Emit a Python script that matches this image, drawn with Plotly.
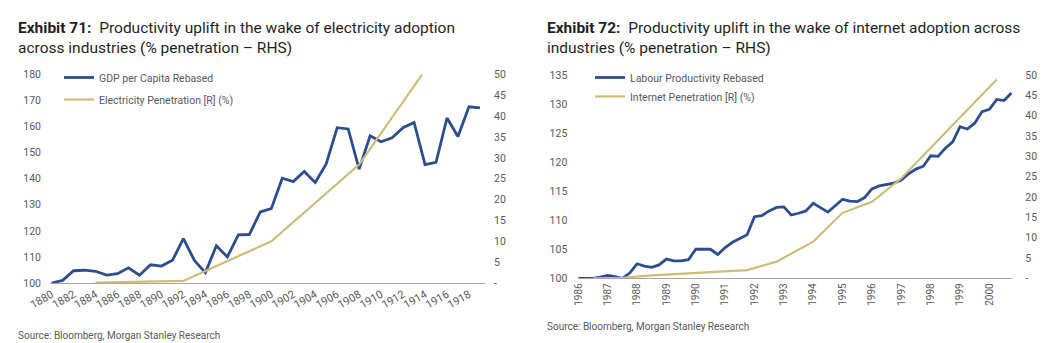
import plotly.graph_objects as go

# ---------------- Data: Exhibit 71 (electricity) ----------------
gdp_years = list(range(1880, 1920))
gdp_per_capita = [100.0, 101.0, 104.7, 104.9, 104.5, 103.0, 103.6, 105.8, 103.0, 107.0,
                  106.5, 108.7, 117.0, 108.7, 104.0, 114.3, 110.0, 118.5, 118.6, 127.3,
                  128.5, 140.2, 138.9, 142.8, 138.6, 145.7, 159.6, 159.1, 143.7, 156.5,
                  154.2, 155.7, 159.6, 161.6, 145.4, 146.3, 163.3, 156.2, 167.6, 167.2]
elec_years = [1884, 1892, 1900, 1908, 1914]
elec_penetration = [0.1, 0.5, 10.0, 28.4, 51.0]
left_xticks = list(range(1880, 1919, 2))
left_yticks = list(range(100, 181, 10))

# ---------------- Data: Exhibit 72 (internet) ----------------
prod_quarters = [f"{y}Q{q}" for y in range(1986, 2001) for q in range(1, 5)]
labour_productivity = [100.0, 100.0, 100.0, 100.2,
                       100.5, 100.3, 100.0, 100.9,
                       102.5, 102.1, 101.9, 102.3,
                       103.3, 103.0, 103.0, 103.2,
                       105.0, 105.0, 105.0, 104.1,
                       105.3, 106.2, 106.9, 107.5,
                       110.6, 110.8, 111.6, 112.2,
                       112.3, 110.9, 111.2, 111.6,
                       112.9, 112.1, 111.4, 112.5,
                       113.6, 113.3, 113.2, 113.9,
                       115.4, 115.9, 116.1, 116.4,
                       116.9, 118.0, 118.8, 119.3,
                       121.1, 121.0, 122.4, 123.5,
                       126.1, 125.7, 126.7, 128.7,
                       129.1, 130.8, 130.6, 131.9]
net_quarters = ["1986Q3", "1987Q3", "1988Q3", "1989Q3", "1990Q4", "1991Q4", "1992Q4",
                "1994Q1", "1995Q1", "1996Q1", "1997Q1", "1998Q1", "1999Q1", "2000Q2"]
net_penetration = [0.0, 0.1, 0.7, 1.1, 1.6, 2.0, 4.1, 9.0, 16.1, 18.8, 24.6, 32.0, 39.6, 48.9]
right_xticks = list(range(1986, 2001))
right_yticks = list(range(100, 136, 5))
pct_ticks = list(range(0, 51, 5))
pct_text = ["-"] + [str(v) for v in pct_ticks[1:]]


def q2num(s):
    return int(s[:4]) + (int(s[-1]) - 1) / 4.0


BLUE = "#2C4D8E"
GOLD = "#CDBD78"
GREY = "#595959"
FONT = "Roboto"
W, H = 1042, 343

fig = go.Figure()

fig.add_trace(go.Scatter(x=gdp_years, y=gdp_per_capita, name="GDP per Capita Rebased",
                         mode="lines", line=dict(color=BLUE, width=2.8),
                         xaxis="x", yaxis="y", legend="legend", legendgroup="a"))
fig.add_trace(go.Scatter(x=elec_years, y=elec_penetration, name="Electricity Penetration [R] (%)",
                         mode="lines", line=dict(color=GOLD, width=2.2),
                         xaxis="x", yaxis="y2", legend="legend", legendgroup="b"))
fig.add_trace(go.Scatter(x=[q2num(q) for q in prod_quarters], y=labour_productivity,
                         name="Labour Productivity Rebased",
                         mode="lines", line=dict(color=BLUE, width=2.8),
                         xaxis="x2", yaxis="y3", legend="legend2", legendgroup="c"))
fig.add_trace(go.Scatter(x=[q2num(q) for q in net_quarters], y=net_penetration,
                         name="Internet Penetration [R] (%)",
                         mode="lines", line=dict(color=GOLD, width=2.2),
                         xaxis="x2", yaxis="y4", legend="legend2", legendgroup="d"))

tickfont = dict(family=FONT, size=10.5, color=GREY)
common_y = dict(showgrid=False, zeroline=False, showline=False, ticks="", tickfont=tickfont,
                automargin=False)

fig.update_layout(
    width=W, height=H,
    margin=dict(l=0, r=0, t=0, b=0, autoexpand=False),
    paper_bgcolor="white", plot_bgcolor="white",
    font=dict(family=FONT, color=GREY),
    xaxis=dict(domain=[50 / W, 485 / W], range=[1879.85, 1919.46], anchor="y",
               tickvals=left_xticks, ticktext=[str(v) for v in left_xticks], tickangle=-30,
               showgrid=False, zeroline=False, showline=True, linecolor="#A6A6A6", linewidth=1,
               ticks="", tickfont=dict(family=FONT, size=11, color=GREY), automargin=False),
    yaxis=dict(domain=[1 - 283 / H, 1 - 74.5 / H], range=[100, 180], anchor="x",
               tickvals=left_yticks, ticklabelstandoff=8, **common_y),
    yaxis2=dict(overlaying="y", side="right", anchor="x", range=[0, 50],
                tickvals=pct_ticks, ticktext=pct_text, ticklabelstandoff=8, **common_y),
    xaxis2=dict(domain=[578.3 / W, 1012.3 / W], range=[1986.0, 2000.78], anchor="y3",
                tickvals=right_xticks, ticktext=[str(v) for v in right_xticks], tickangle=-90,
                showgrid=False, zeroline=False, showline=True, linecolor="#A6A6A6", linewidth=1,
                ticks="", tickfont=dict(family=FONT, size=10, color=GREY), automargin=False),
    yaxis3=dict(domain=[1 - 278.3 / H, 1 - 75 / H], range=[100, 135], anchor="x2",
                tickvals=right_yticks, ticklabelstandoff=10, **common_y),
    yaxis4=dict(overlaying="y3", side="right", anchor="x2", range=[0, 50],
                tickvals=pct_ticks, ticktext=pct_text, ticklabelstandoff=12, **common_y),
    legend=dict(x=59 / W, y=1 - 63 / H, xanchor="left", yanchor="top",
                bgcolor="rgba(0,0,0,0)", font=dict(family=FONT, size=10.5, color=GREY),
                tracegroupgap=3, itemwidth=30),
    legend2=dict(x=590 / W, y=1 - 63 / H, xanchor="left", yanchor="top",
                 bgcolor="rgba(0,0,0,0)", font=dict(family=FONT, size=10.5, color=GREY),
                 tracegroupgap=0, itemwidth=30),
    showlegend=True,
)

title_font = dict(family=FONT, size=15.5, color="#1F1F1F")
fig.add_annotation(xref="paper", yref="paper", x=16 / W, y=1 - 17 / H, xanchor="left", yanchor="top",
                   align="left", showarrow=False, font=title_font,
                   text="<b>Exhibit 71:</b>\u00a0 Productivity uplift in the wake of electricity adoption"
                        "<br>across industries (% penetration \u2013 RHS)")
fig.add_annotation(xref="paper", yref="paper", x=545 / W, y=1 - 17 / H, xanchor="left", yanchor="top",
                   align="left", showarrow=False, font=title_font,
                   text="<b>Exhibit 72:</b>\u00a0 Productivity uplift in the wake of internet adoption across"
                        "<br>industries (% penetration \u2013 RHS)")
src_font = dict(family=FONT, size=10, color=GREY)
fig.add_annotation(xref="paper", yref="paper", x=16 / W, y=1 - 335 / H, xanchor="left", yanchor="middle",
                   showarrow=False, font=src_font, text="Source: Bloomberg, Morgan Stanley Research")
fig.add_annotation(xref="paper", yref="paper", x=545 / W, y=1 - 326 / H, xanchor="left", yanchor="middle",
                   showarrow=False, font=src_font, text="Source: Bloomberg, Morgan Stanley Research")

fig.write_html("out.html")
